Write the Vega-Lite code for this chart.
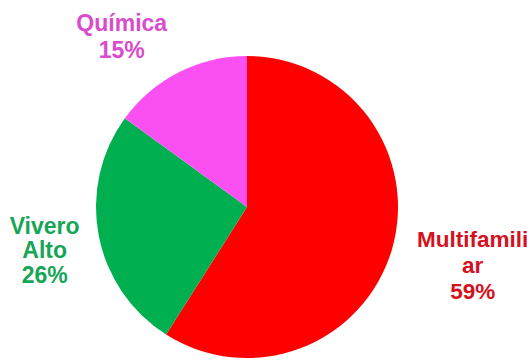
{
  "$schema": "https://vega.github.io/schema/vega-lite/v6.json",
  "width": 494,
  "height": 306,
  "autosize": {"type": "none"},
  "padding": {"left": 0, "top": 54, "right": 36, "bottom": 0},
  "background": "white",
  "view": {"stroke": null},
  "data": {
    "values": [
      {"categoria": "Multifamiliar", "valor": 59, "orden": 1, "etiqueta": "Multifamili\nar\n59%"},
      {"categoria": "Vivero Alto", "valor": 26, "orden": 2, "etiqueta": "Vivero\nAlto\n26%"},
      {"categoria": "Química", "valor": 15, "orden": 3, "etiqueta": "Química\n15%"}
    ]
  },
  "encoding": {
    "theta": {"field": "valor", "type": "quantitative", "stack": true},
    "order": {"field": "orden", "type": "ordinal"}
  },
  "layer": [
    {
      "mark": {"type": "arc", "outerRadius": 151},
      "encoding": {
        "color": {
          "field": "categoria",
          "type": "nominal",
          "scale": {"domain": ["Multifamiliar", "Vivero Alto", "Química"], "range": ["#FF0000", "#00B050", "#FA50F2"]},
          "legend": null
        }
      }
    },
    {
      "mark": {"type": "text", "radius": 233, "dx": 2, "dy": -32, "font": "Liberation Sans", "fontWeight": "bold", "fontSize": 22.5, "lineBreak": "\n", "lineHeight": 26, "color": "#D4111C"},
      "encoding": {
        "text": {"condition": {"test": "datum.categoria === 'Multifamiliar'", "field": "etiqueta"}, "value": ""}
      }
    },
    {
      "mark": {"type": "text", "radius": 206, "dy": -19, "font": "Liberation Sans", "fontWeight": "bold", "fontSize": 23, "lineBreak": "\n", "lineHeight": 24.5, "color": "#17A556"},
      "encoding": {
        "text": {"condition": {"test": "datum.categoria === 'Vivero Alto'", "field": "etiqueta"}, "value": ""}
      }
    },
    {
      "mark": {"type": "text", "radius": 190, "dx": -39, "dy": -14, "font": "Liberation Sans", "fontWeight": "bold", "fontSize": 23, "lineBreak": "\n", "lineHeight": 27, "color": "#D94CCB"},
      "encoding": {
        "text": {"condition": {"test": "datum.categoria === 'Química'", "field": "etiqueta"}, "value": ""}
      }
    }
  ]
}
